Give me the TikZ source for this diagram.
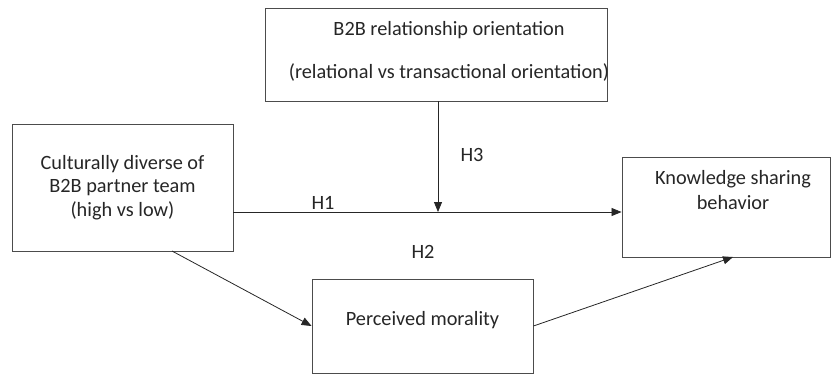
\documentclass[tikz,border=0pt]{standalone}
\usepackage{fontspec}
\setmainfont{Carlito}
\usetikzlibrary{arrows.meta,calc}
\begin{document}
\begin{tikzpicture}[x=1pt,y=-1pt,
  box/.style={draw=black!70,line width=0.9pt,inner sep=0pt,align=center,font=\fontsize{20.3}{23.5}\selectfont,text=black!85},
  lbl/.style={font=\fontsize{20.3}{22}\selectfont,text=black!85,inner sep=0pt},
  arr/.style={draw=black!85,line width=0.8pt,-{Triangle[length=10pt,width=8pt]}}]
\useasboundingbox (0,0) rectangle (832,376);
\node[box,minimum width=221pt,minimum height=127pt] (lc) at (122.5,187.5) {Culturally diverse of\\B2B partner team\\(high vs low)};
\node[box,minimum width=342pt,minimum height=93pt] (ro) at (436,54.5) {};
\node[lbl,align=center,font=\fontsize{20.3}{43}\selectfont] (rot) at (449,51.5) {B2B relationship orientation\\(relational vs transactional orientation)};
\node[box,minimum width=208pt,minimum height=100pt] (ks) at (726,207) {};
\node[lbl,align=center,font=\fontsize{20.3}{25}\selectfont] (kst) at (733,190.5) {Knowledge sharing\\behavior};
\node[box,minimum width=221pt,minimum height=94pt] (pm) at (422.5,326) {};
\node[lbl] (pmt) at (422.5,320) {Perceived morality};
\coordinate (h1y) at (0,212);
\coordinate (meet) at (438,212);
\coordinate (d1s) at (172,251);
\coordinate (d2e) at (733,257);
\draw[arr] (lc.east |- h1y) -- (ks.west |- h1y);
\draw[arr] (ro.south -| meet) -- (meet);
\draw[arr] (d1s) -- (pm.west);
\draw[arr] (pm.east) -- (d2e);
\node[lbl] (h1) at (323,203) {H1};
\node[lbl] (h2) at (423,252) {H2};
\node[lbl] (h3) at (472,155) {H3};
\end{tikzpicture}
\end{document}
